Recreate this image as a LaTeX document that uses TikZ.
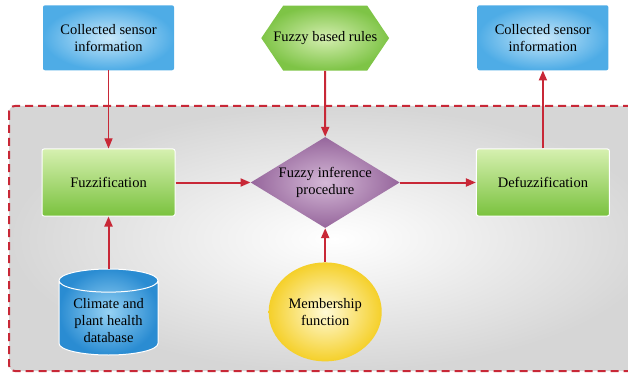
\documentclass[tikz,border=0pt]{standalone}
\usepackage{fontspec}
\setmainfont{Liberation Serif}
\usetikzlibrary{shapes.geometric, shapes.symbols, arrows.meta, positioning}

\definecolor{linkred}{RGB}{200,40,55}
\definecolor{blueIn}{RGB}{200,232,250}
\definecolor{blueOut}{RGB}{78,172,230}
\definecolor{greenTop}{RGB}{214,240,176}
\definecolor{greenBot}{RGB}{122,194,62}
\definecolor{hexIn}{RGB}{212,238,176}
\definecolor{hexOut}{RGB}{126,196,70}
\definecolor{purpIn}{RGB}{212,184,214}
\definecolor{purpOut}{RGB}{150,102,156}
\definecolor{yellowIn}{RGB}{255,250,214}
\definecolor{yellowOut}{RGB}{245,208,42}
\definecolor{dbIn}{RGB}{150,210,244}
\definecolor{dbOut}{RGB}{42,140,210}
\definecolor{bgOut}{RGB}{214,214,214}

\newcommand\boxfont{\fontsize{14.5}{17}\selectfont}

\begin{document}
\begin{tikzpicture}[x=1pt, y=-1pt,
    sensor/.style={rectangle, rounded corners=2pt, inner color=blueIn, outer color=blueOut, minimum width=131pt, minimum height=65pt, align=center, font=\boxfont},
    stage/.style={rectangle, rounded corners=2pt, draw=white, line width=1pt, top color=greenTop, bottom color=greenBot, minimum width=133pt, minimum height=67pt, align=center, font=\boxfont},
    rulebox/.style={signal, signal to=west and east, signal pointer angle=112, inner color=hexIn, outer color=hexOut, minimum width=84pt, minimum height=65pt, inner sep=0pt, font=\boxfont},
    decision/.style={diamond, aspect=1.64, inner color=purpIn, outer color=purpOut, minimum width=149pt, minimum height=91pt, inner sep=0pt, align=center, font=\boxfont},
    database/.style={cylinder, shape border rotate=90, aspect=0.3, draw=white, line width=1pt, inner color=dbIn, outer color=dbOut, minimum width=99pt, minimum height=86pt, align=center, font=\boxfont},
    member/.style={ellipse, inner color=yellowIn, outer color=yellowOut, minimum width=108pt, minimum height=99pt, align=center, font=\boxfont},
    arrow/.style={-{Triangle[length=10pt,width=8pt]}, line width=2pt, draw=linkred},
    thinarrow/.style={arrow, line width=1pt}
]

\useasboundingbox (0,0) rectangle (628,374);

% background frame
\shade[rounded corners=6pt, inner color=white, outer color=bgOut] (9,106) rectangle (660,371);
\draw[rounded corners=6pt, draw=linkred, line width=2pt, dash pattern=on 8pt off 5pt] (9,106) rectangle (660,371);

\node[stage] (fuzz) at (108.5,182.5) {Fuzzification};
\node[decision, right=75pt of fuzz] (infer) {Fuzzy inference\\procedure};
\node[stage, right=76pt of infer] (defuzz) {Defuzzification};

\node[sensor, above=78pt of fuzz] (sensorin) {Collected sensor\\information};
\node[rulebox, above=66pt of infer] (rules) {\makebox[84pt][c]{Fuzzy based rules}};
\node[sensor, above=78pt of defuzz] (sensorout) {Collected sensor\\information};

\node[database, below=52pt of fuzz] (db) {Climate and\\plant health\\database};
\node[member, below=34pt of infer] (memfn) {Membership\\function};

% Arrows
\draw[thinarrow] (sensorin) -- (fuzz);
\draw[arrow] (rules) -- (infer);
\draw[arrow] (defuzz) -- (sensorout);
\draw[arrow] (fuzz) -- (infer);
\draw[arrow] (infer) -- (defuzz);
\draw[arrow] (db) -- (fuzz);
\draw[arrow] (memfn) -- (infer);

\end{tikzpicture}
\end{document}
